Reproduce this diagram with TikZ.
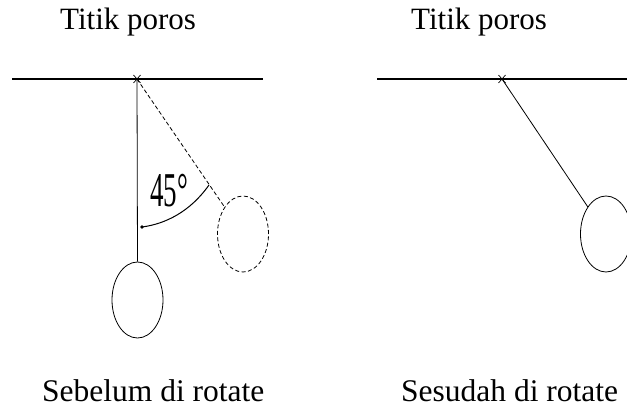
\documentclass[tikz,border=0pt]{standalone}
\usepackage{fontspec}
\setmainfont{Liberation Serif}
\usetikzlibrary{shapes.geometric}
\begin{document}
\begin{tikzpicture}[x=1pt,y=-1pt,
  lbl/.style={inner sep=0pt,anchor=base west,font=\fontsize{31}{34}\selectfont},
  captext/.style={inner sep=0pt,anchor=base west,font=\fontsize{31.5}{34}\selectfont},
  beam/.style={line width=1.4pt},
  rod/.style={line width=0.8pt},
  bob/.style={draw,ellipse,line width=0.8pt,minimum width=51pt,minimum height=76pt,inner sep=0pt},
  dashd/.style={dash pattern=on 4pt off 2.5pt},
  pivotmark/.style={line width=0.7pt}]
\useasboundingbox (0,0) rectangle (627,409);
\clip (0,0) rectangle (627,409);
% left panel
\coordinate (beamLa) at (12,79);
\coordinate (beamLb) at (263,79);
\coordinate (pivL) at (137,79);
\draw[beam] (beamLa) -- (beamLb);
\draw[pivotmark] ([shift={(-3.5,-4)}]pivL) -- ([shift={(3.5,4)}]pivL) ([shift={(-3.5,4)}]pivL) -- ([shift={(3.5,-4)}]pivL);
\node[bob] (bobL) at (137.5,300) {};
\node[bob,dashd] (bobD) at (243,234) {};
\draw[rod] (pivL) -- (bobL.north);
\draw[rod,dashd] (pivL) -- (bobD);
\coordinate (arcA) at (209,185);
\coordinate (arcB) at (142,227);
\draw[line width=1pt] (arcA) .. controls (190,212) and (165,224) .. (arcB);
\fill (arcB) circle (1.8pt);
\node[inner sep=0pt,anchor=base west,font=\fontsize{27}{30}\selectfont] (ang) at (150,207) {\scalebox{1}[1.8]{45°}};
\node[lbl] (titL) at (60,30) {Titik poros};
\node[captext] (capL) at (42,401) {Sebelum di rotate};
% right panel
\coordinate (beamRa) at (377,79);
\coordinate (beamRb) at (627,79);
\coordinate (pivR) at (502,79);
\draw[beam] (beamRa) -- (beamRb);
\draw[pivotmark] ([shift={(-3.5,-4)}]pivR) -- ([shift={(3.5,4)}]pivR) ([shift={(-3.5,4)}]pivR) -- ([shift={(3.5,-4)}]pivR);
\node[bob] (bobR) at (606,234) {};
\draw[rod] (pivR) -- (bobR);
\node[lbl] (titR) at (411,30) {Titik poros};
\node[captext] (capR) at (401,401) {Sesudah di rotate};
\end{tikzpicture}
\end{document}
